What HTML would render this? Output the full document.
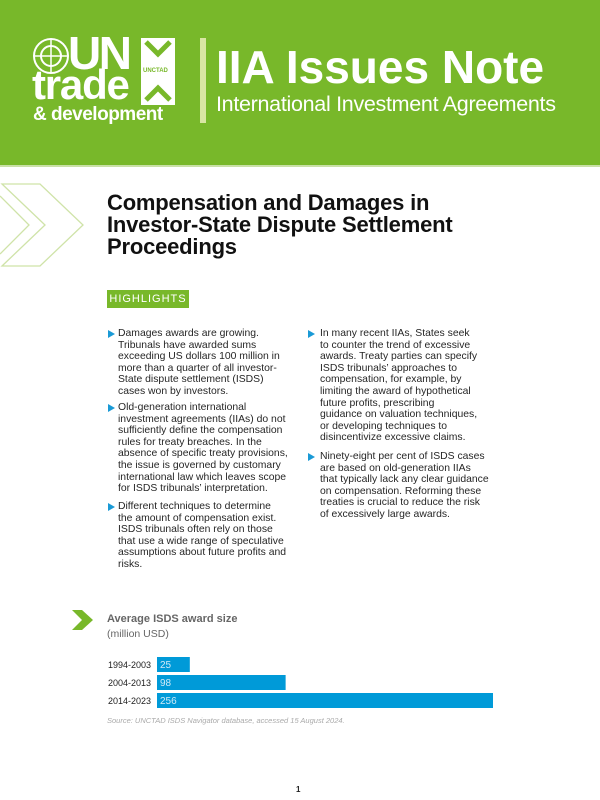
<!DOCTYPE html>
<html><head><meta charset="utf-8">
<style>
*{margin:0;padding:0;box-sizing:border-box}
body{width:600px;height:800px;background:#fff;font-family:"Liberation Sans",sans-serif;position:relative;overflow:hidden;color:#222}
.abs{position:absolute}
.hdr{left:0;top:0;width:600px;height:165px;background:#78b82a}
.p{position:absolute;font-size:10.4px;line-height:11.6px;color:#262626;white-space:nowrap}
.tri{position:absolute;width:0;height:0;border-top:4.5px solid transparent;border-bottom:4.5px solid transparent;border-left:7px solid #1a9ad6}
</style></head><body>
<div class="abs hdr"></div>
<div class="abs" style="left:0;top:165px;width:600px;height:2px;background:#c9e0a6"></div>
<svg class="abs" style="left:0;top:0" width="600" height="300">
 <circle cx="51" cy="56" r="17" fill="none" stroke="#fff" stroke-width="2"/>
 <circle cx="51" cy="56" r="10" fill="none" stroke="#fff" stroke-width="2"/>
 <line x1="34" y1="56" x2="68" y2="56" stroke="#fff" stroke-width="1.5"/>
 <line x1="51" y1="39" x2="51" y2="73" stroke="#fff" stroke-width="1.5"/>
 <rect x="141" y="38" width="34" height="67" fill="#fff"/>
 <polyline points="146,42 158,54 170,42" fill="none" stroke="#78b82a" stroke-width="5"/>
 <polyline points="146,100 158,88 170,100" fill="none" stroke="#78b82a" stroke-width="5"/>
 <rect x="200" y="38" width="6" height="85" fill="#d9e6a3"/>
 <polygon points="2,184 40,184 83,225 40,266 2,266 45,225" fill="none" stroke="#cfe3a8" stroke-width="1.3"/>
 <polyline points="0,196 29,225 0,254" fill="none" stroke="#cfe3a8" stroke-width="1.3"/>
</svg>
<div class="abs" style="left:68px;top:30px;font-size:46px;font-weight:bold;color:#fff;letter-spacing:-2.5px;line-height:46px">UN</div>
<div class="abs" style="left:32px;top:64px;font-size:42px;font-weight:bold;color:#fff;letter-spacing:-1.2px;line-height:41px">trade</div>
<div class="abs" style="left:33px;top:105px;font-size:19px;font-weight:bold;color:#fff;letter-spacing:-0.5px;line-height:20px">&amp; development</div>
<div class="abs" style="left:143px;top:68px;font-size:6px;font-weight:bold;color:#78b82a">UNCTAD</div>
<div class="abs" style="left:216px;top:43px;font-size:46px;font-weight:bold;color:#fff;line-height:48px;white-space:nowrap">IIA Issues Note</div>
<div class="abs" style="left:216px;top:92px;font-size:21.5px;color:#fff;line-height:24px;white-space:nowrap;letter-spacing:-0.3px">International Investment Agreements</div>

<div class="abs" style="left:107px;top:192px;font-size:22px;font-weight:bold;color:#111;line-height:22px;letter-spacing:-0.2px;white-space:nowrap">Compensation and Damages in<br>Investor-State Dispute Settlement<br>Proceedings</div>

<div class="abs" style="left:107px;top:290px;width:82px;height:18px;background:#78b82a;color:#fff;font-size:11px;line-height:18px;text-align:center;letter-spacing:1px;overflow:hidden;white-space:nowrap">HIGHLIGHTS</div>

<div class="tri" style="left:108px;top:330px"></div>
<div class="p" style="left:118px;top:328px">Damages awards are growing.<br>Tribunals have awarded sums<br>exceeding US dollars 100 million in<br>more than a quarter of all investor-<br>State dispute settlement (ISDS)<br>cases won by investors.</div>
<div class="tri" style="left:108px;top:404px"></div>
<div class="p" style="left:118px;top:402px">Old-generation international<br>investment agreements (IIAs) do not<br>sufficiently define the compensation<br>rules for treaty breaches. In the<br>absence of specific treaty provisions,<br>the issue is governed by customary<br>international law which leaves scope<br>for ISDS tribunals’ interpretation.</div>
<div class="tri" style="left:108px;top:503px"></div>
<div class="p" style="left:118px;top:501px">Different techniques to determine<br>the amount of compensation exist.<br>ISDS tribunals often rely on those<br>that use a wide range of speculative<br>assumptions about future profits and<br>risks.</div>

<div class="tri" style="left:308px;top:330px"></div>
<div class="p" style="left:320px;top:328px">In many recent IIAs, States seek<br>to counter the trend of excessive<br>awards. Treaty parties can specify<br>ISDS tribunals’ approaches to<br>compensation, for example, by<br>limiting the award of hypothetical<br>future profits, prescribing<br>guidance on valuation techniques,<br>or developing techniques to<br>disincentivize excessive claims.</div>
<div class="tri" style="left:308px;top:453px"></div>
<div class="p" style="left:320px;top:451px">Ninety-eight per cent of ISDS cases<br>are based on old-generation IIAs<br>that typically lack any clear guidance<br>on compensation. Reforming these<br>treaties is crucial to reduce the risk<br>of excessively large awards.</div>

<svg class="abs" style="left:0;top:0" width="600" height="800" id="chart">
 <polygon points="72,610 82,610 93,620 82,630 72,630 82,620" fill="#78b82a"/>
 <text x="107" y="622" font-size="11" font-weight="bold" fill="#666">Average ISDS award size</text>
 <text x="107" y="637" font-size="10.5" fill="#666">(million USD)</text>
 <text x="107" y="723" font-size="7.5" font-style="italic" fill="#aaa">Source: UNCTAD ISDS Navigator database, accessed 15 August 2024.</text>
</svg>
<div class="abs" style="left:296px;top:785px;font-size:8px;font-weight:bold;color:#222">1</div>
<script>
const categories=["1994-2003","2004-2013","2014-2023"];
const values=[25,98,256];
const svg=document.getElementById('chart');
const NS="http://www.w3.org/2000/svg";
const x0=157,scale=336/256,y0=657,step=18,bh=15;
const xs=v=>v*scale;
categories.forEach((c,i)=>{
 const y=y0+i*step;
 const r=document.createElementNS(NS,'rect');
 r.setAttribute('x',x0);r.setAttribute('y',y);r.setAttribute('width',xs(values[i]));r.setAttribute('height',bh);r.setAttribute('fill','#009ad8');
 
 
 svg.appendChild(r);
 const l=document.createElementNS(NS,'text');
 l.setAttribute('x',108);l.setAttribute('y',y+11);l.setAttribute('font-size','9');l.setAttribute('fill','#222');l.textContent=c;
 
 
 svg.appendChild(l);
 const t=document.createElementNS(NS,'text');
 t.setAttribute('x',x0+3);t.setAttribute('y',y+11);t.setAttribute('font-size','10');t.setAttribute('fill','#cfeaf7');t.textContent=values[i];
 
 
 svg.appendChild(t);
});
</script>
</body></html>
